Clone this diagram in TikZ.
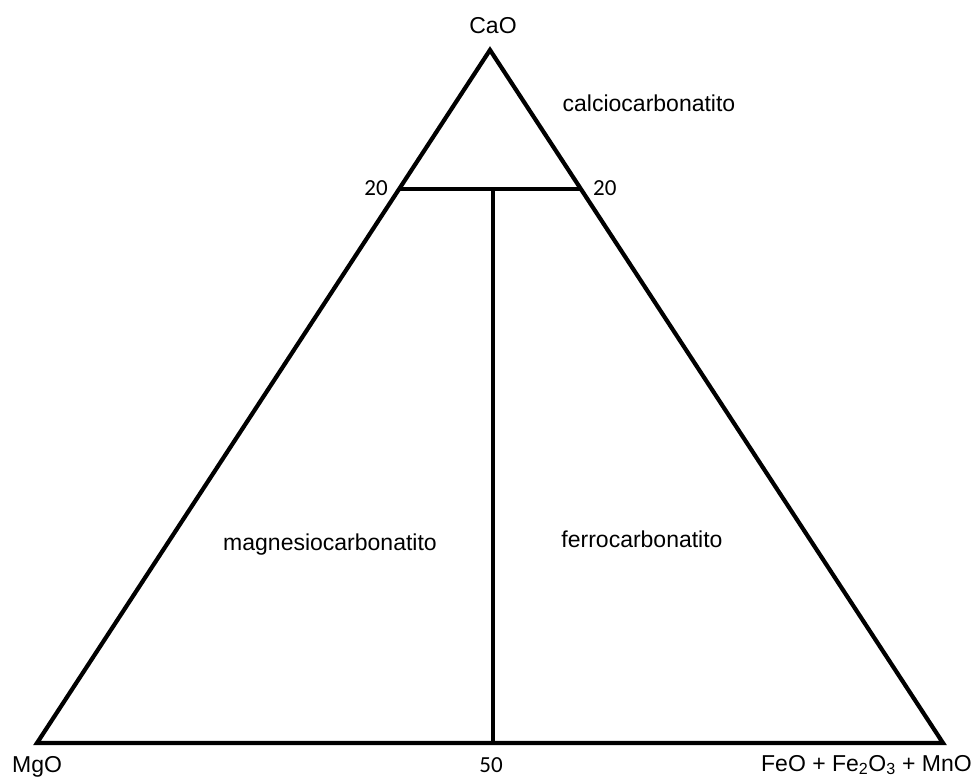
\documentclass[tikz,border=0pt]{standalone}
\usepackage{fontspec}
\setmainfont{Liberation Sans}
\newfontfamily\numfont{Carlito}
\begin{document}
\begin{tikzpicture}[x=1pt,y=-1pt,
  edge/.style={line width=4.2pt,black},
  lbl/.style={inner sep=0pt,font=\fontsize{23}{26}\selectfont,text=black},
  num/.style={inner sep=0pt,font=\numfont\fontsize{23}{26}\selectfont,text=black}]
\useasboundingbox[fill=white] (0,0) rectangle (973,778);
\coordinate (top) at (490,50);
\coordinate (mg) at (37,743);
\coordinate (fe) at (943,743);
\coordinate (l20) at (399,189);
\coordinate (r20) at (581,189);
\coordinate (mid) at (493,189);
\coordinate (b50) at (493,743);
\draw[edge] (top) -- (mg) -- (fe) -- cycle;
\draw[edge] (l20) -- (r20);
\draw[edge] (mid) -- (b50);
\node[lbl,anchor=base] (cao) at (493,34) {CaO};
\node[lbl,anchor=base] (calcio) at (649,112) {calciocarbonatito};
\node[num,anchor=base east] (n20l) at (388,195) {20};
\node[num,anchor=base west] (n20r) at (593,195) {20};
\node[lbl,anchor=base] (magn) at (330,550) {magnesiocarbonatito};
\node[lbl,anchor=base] (ferro) at (642,547) {ferrocarbonatito};
\node[lbl,anchor=base west] (mgo) at (12,772) {MgO};
\node[num,anchor=base] (n50) at (491,772) {50};
\node[lbl,anchor=base east] (feo) at (972,771) {FeO + Fe\textsubscript{2}O\textsubscript{3} + MnO};
\end{tikzpicture}
\end{document}
